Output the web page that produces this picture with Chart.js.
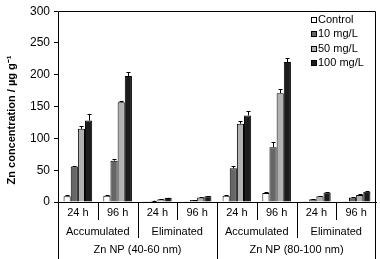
<!DOCTYPE html>
<html>
<head>
<meta charset="utf-8">
<script src="https://cdn.jsdelivr.net/npm/chart.js@4/dist/chart.umd.min.js"></script>
<style>
  body { margin: 0; background: #fff; }
  #wrap { width: 380px; height: 259px; }
</style>
</head>
<body>
<div id="wrap"><canvas id="zincChart" width="380" height="259"></canvas></div>
<script>
// x categories and the two rows of group labels under them
var timeLabels = ['24 h', '96 h', '24 h', '96 h', '24 h', '96 h', '24 h', '96 h']
var phaseLabels = ['Accumulated', 'Eliminated', 'Accumulated', 'Eliminated']
var sizeLabels = ['Zn NP (40-60 nm)', 'Zn NP (80-100 nm)']

// Zn concentration, ug/g
var controlVals = [9, 10, 0.5, 0.5, 10, 14, 0.5, 0.5]
var mg10Vals = [56, 65, 2, 3, 53, 86, 4.5, 7]
var mg50Vals = [115, 157, 4.5, 7, 123, 171, 9, 11]
var mg100Vals = [128, 198, 6.5, 9, 136, 220, 15, 16]

// error bars (+ only)
var controlErr = [1.5, 1, 0, 0, 1, 2, 0, 0]
var mg10Err = [1, 2, 0.3, 0.3, 3, 8, 0.5, 0.5]
var mg50Err = [4, 2, 0.5, 0.5, 4, 6, 0.5, 1]
var mg100Err = [10, 6, 0.5, 0.5, 7, 7, 1, 1.5]

var yTicks = [0, 50, 100, 150, 200, 250, 300]
var yTitle = 'Zn concentration / \u00b5g g\u207b\u00b9'

var fontName = "'Liberation Sans', Arial, sans-serif"

var errorBars = {
    id: 'errorBars',
    afterDatasetsDraw: function (chart) {
        var ctx = chart.ctx
        var yScale = chart.scales.y
        ctx.save()
        ctx.strokeStyle = '#000'
        ctx.lineWidth = 1
        chart.data.datasets.forEach(function (ds, i) {
            var meta = chart.getDatasetMeta(i)
            meta.data.forEach(function (bar, j) {
                var err = ds.errors[j]
                if (!err) return
                var x = Math.round(bar.x) + 0.5
                var top = Math.round(yScale.getPixelForValue(ds.data[j] + err)) + 0.5
                ctx.beginPath()
                ctx.moveTo(x, bar.y)
                ctx.lineTo(x, top)
                ctx.moveTo(x - 2, top)
                ctx.lineTo(x + 2, top)
                ctx.stroke()
            })
        })
        ctx.restore()
    }
}

var frameAndLabels = {
    id: 'frameAndLabels',
    afterDraw: function (chart) {
        var ctx = chart.ctx
        var area = chart.chartArea
        var xScale = chart.scales.x
        var bottom = chart.height
        var n = timeLabels.length
        var step = (area.right - area.left) / n
        ctx.save()
        ctx.strokeStyle = '#000'
        ctx.lineWidth = 1

        // frame: top line, left + right lines run to the bottom of the picture
        var L = Math.round(area.left) + 0.5
        var R = Math.round(area.right) - 0.5
        var T = Math.round(area.top) + 0.5
        ctx.beginPath()
        ctx.moveTo(L, T)
        ctx.lineTo(R, T)
        ctx.moveTo(L, T)
        ctx.lineTo(L, bottom)
        ctx.moveTo(R, T)
        ctx.lineTo(R, bottom)
        ctx.stroke()

        // separators between categories
        var base = area.bottom
        for (var i = 1; i < n; i++) {
            var sx = Math.round(xScale.getPixelForValue(i) - step / 2) + 0.5
            var len = 18
            if (i % 2 === 0) len = 36
            if (i === n / 2) len = bottom - base
            ctx.beginPath()
            ctx.moveTo(sx, base)
            ctx.lineTo(sx, base + len)
            ctx.stroke()
        }

        ctx.fillStyle = '#000'
        ctx.font = '11px ' + fontName
        ctx.textAlign = 'center'
        ctx.textBaseline = 'middle'
        timeLabels.forEach(function (lab, i) {
            ctx.fillText(lab, xScale.getPixelForValue(i), base + 11)
        })
        phaseLabels.forEach(function (lab, i) {
            var cx = (xScale.getPixelForValue(i * 2) + xScale.getPixelForValue(i * 2 + 1)) / 2
            ctx.fillText(lab, cx, base + 30)
        })
        sizeLabels.forEach(function (lab, i) {
            var cx = (xScale.getPixelForValue(i * 4 + 1) + xScale.getPixelForValue(i * 4 + 2)) / 2
            ctx.fillText(lab, cx, base + 48)
        })

        // y title, drawn by hand so it sits a bit lower like the original
        ctx.save()
        ctx.translate(12, 120)
        ctx.rotate(-Math.PI / 2)
        ctx.font = 'bold 11px ' + fontName
        ctx.fillText(yTitle, 0, 0)
        ctx.restore()

        // legend, top right inside the plot
        ctx.textAlign = 'left'
        ctx.font = '11px ' + fontName
        chart.data.datasets.forEach(function (ds, i) {
            var ly = 20 + i * 14.3
            ctx.fillStyle = ds.backgroundColor
            ctx.fillRect(311, Math.round(ly - 3), 6, 6)
            ctx.strokeRect(311.5, Math.round(ly - 3) + 0.5, 5, 5)
            ctx.fillStyle = '#000'
            ctx.fillText(ds.label, 318, ly)
        })
        ctx.restore()
    }
}

function makeSet(label, data, errors, color) {
    return {
        label: label,
        data: data,
        errors: errors,
        backgroundColor: color,
        borderColor: '#000',
        borderWidth: 1,
        categoryPercentage: 0.72,
        barPercentage: 1.0
    }
}

var chart = new Chart(document.getElementById('zincChart'), {
    type: 'bar',
    data: {
        labels: timeLabels,
        datasets: [
            makeSet('Control', controlVals, controlErr, '#ffffff'),
            makeSet('10 mg/L', mg10Vals, mg10Err, '#666666'),
            makeSet('50 mg/L', mg50Vals, mg50Err, '#b2b2b2'),
            makeSet('100 mg/L', mg100Vals, mg100Err, '#1c1c1c')
        ]
    },
    options: {
        responsive: false,
        animation: false,
        devicePixelRatio: 1,
        layout: { padding: { top: 6, right: 4, bottom: 57, left: 0 } },
        plugins: {
            legend: { display: false },
            tooltip: { enabled: false }
        },
        scales: {
            x: {
                grid: { display: false },
                ticks: { display: false },
                border: { color: '#000', width: 1 },
                afterFit: function (scale) { scale.height = 0 }
            },
            y: {
                min: 0,
                max: 300,
                afterBuildTicks: function (scale) {
                    scale.ticks = yTicks.map(function (v) { return { value: v } })
                },
                grid: { drawOnChartArea: false, color: '#000', tickLength: 4 },
                border: { display: false },
                ticks: { color: '#000', font: { size: 12, family: fontName }, padding: 4 },
                title: { display: false },
                afterFit: function (scale) { scale.width = 58 }
            }
        }
    },
    plugins: [errorBars, frameAndLabels]
})
</script>
</body>
</html>
